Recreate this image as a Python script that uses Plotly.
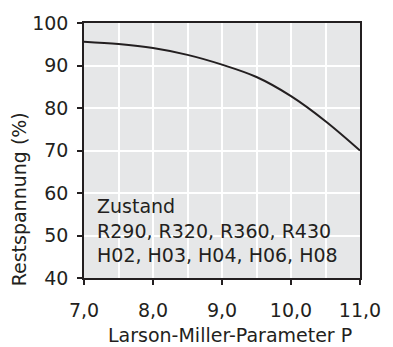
import plotly.graph_objects as go

# Data
p_values = [7.0, 7.5, 8.0, 8.5, 9.0, 9.5, 10.0, 10.5, 11.0]
restspannung = [95.6, 95.05, 94.1, 92.5, 90.2, 87.3, 82.8, 76.9, 70.0]

x_tickvals = [7.0, 8.0, 9.0, 10.0, 11.0]
x_ticktext = ["7,0", "8,0", "9,0", "10,0", "11,0"]
y_tickvals = [40, 50, 60, 70, 80, 90, 100]

legend_lines = ["Zustand", "R290, R320, R360, R430", "H02, H03, H04, H06, H08"]

FONT = "DejaVu Sans"
TXT = "#231f20"
FS = 19

fig = go.Figure()
fig.add_trace(go.Scatter(
    x=p_values, y=restspannung, mode="lines",
    line=dict(color="#231f20", width=2, shape="spline", smoothing=1.0),
    showlegend=False, hoverinfo="skip"))

fig.update_layout(
    width=393, height=347,
    margin=dict(l=84, r=23, t=17, b=69),
    paper_bgcolor="white", plot_bgcolor="#e6e7e8",
    font=dict(family=FONT, size=FS, color=TXT),
    separators=",.",
    showlegend=False,
)

fig.update_xaxes(
    range=[7.0, 11.0], tickvals=x_tickvals, ticktext=x_ticktext,
    ticks="outside", ticklen=5, tickwidth=1.5, tickcolor="#231f20",
    showline=True, linecolor="#231f20", linewidth=1.5, mirror=True,
    showgrid=True, gridcolor="white", gridwidth=1.5,
    minor=dict(dtick=0.5, showgrid=True, gridcolor="white", gridwidth=1.5, ticks=""),
    ticklabelstandoff=9, zeroline=False,
    tickfont=dict(family=FONT, size=FS, color=TXT),
)
fig.update_yaxes(
    range=[40, 100], tickvals=y_tickvals,
    ticks="outside", ticklen=5, tickwidth=1.5, tickcolor="#231f20",
    showline=True, linecolor="#231f20", linewidth=1.5, mirror=True,
    showgrid=True, gridcolor="white", gridwidth=1.5,
    ticklabelstandoff=5, zeroline=False,
    tickfont=dict(family=FONT, size=FS, color=TXT),
)

fig.add_annotation(
    text="<br>".join(legend_lines), xref="paper", yref="paper",
    x=0.04, y=0.335, xanchor="left", yanchor="top", align="left",
    showarrow=False, font=dict(family=FONT, size=FS, color=TXT))

fig.add_annotation(
    text="Larson-Miller-Parameter P", xref="paper", yref="paper",
    x=0.53, y=-0.222, xanchor="center", yanchor="middle",
    showarrow=False, font=dict(family=FONT, size=FS, color=TXT))

fig.add_annotation(
    text="Restspannung (%)", xref="paper", yref="paper",
    x=-0.234, y=0.31, xanchor="center", yanchor="middle", textangle=-90,
    showarrow=False, font=dict(family=FONT, size=FS, color=TXT))

fig.write_html("out.html")
